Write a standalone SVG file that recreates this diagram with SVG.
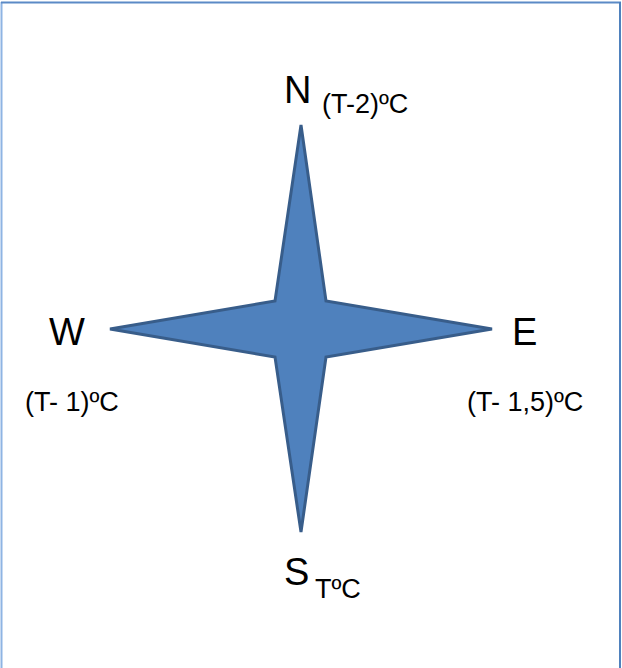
<svg xmlns="http://www.w3.org/2000/svg" width="622" height="668" viewBox="0 0 622 668">
<style>
.big{font-family:"Liberation Sans",Arial,sans-serif;font-size:38px;fill:#000}
.small{font-family:"Liberation Sans",Arial,sans-serif;font-size:27px;fill:#000}
</style>
<rect width="622" height="668" fill="#fff"/>
<g id="frame">
<line x1="1.5" y1="2" x2="1.5" y2="668" stroke="#8EB4E3" stroke-width="2"/>
<line x1="1" y1="2.5" x2="621" y2="2.5" stroke="#5B8AC6" stroke-width="2"/>
<line x1="620" y1="2" x2="620" y2="668" stroke="#4F81BD" stroke-width="2"/>
</g>
<g id="star">
<polygon points="301,125 326,301 492,329 326,357 301,532 275,357 110,329 275,301" fill="#4F81BD" stroke="#385D8A" stroke-width="3" stroke-linejoin="miter"/>
</g>
<g id="north">
<text class="big" x="284" y="103">N</text>
<text class="small" x="322" y="113">(T-2)ºC</text>
</g>
<g id="west">
<text class="big" x="49" y="345">W</text>
<text class="small" x="25" y="411">(T- 1)ºC</text>
</g>
<g id="east">
<text class="big" x="512" y="345">E</text>
<text class="small" x="467" y="411">(T- 1,5)ºC</text>
</g>
<g id="south">
<text class="big" x="284" y="585">S</text>
<text class="small" x="315" y="598">TºC</text>
</g>
<g id="connectors"/>
</svg>
